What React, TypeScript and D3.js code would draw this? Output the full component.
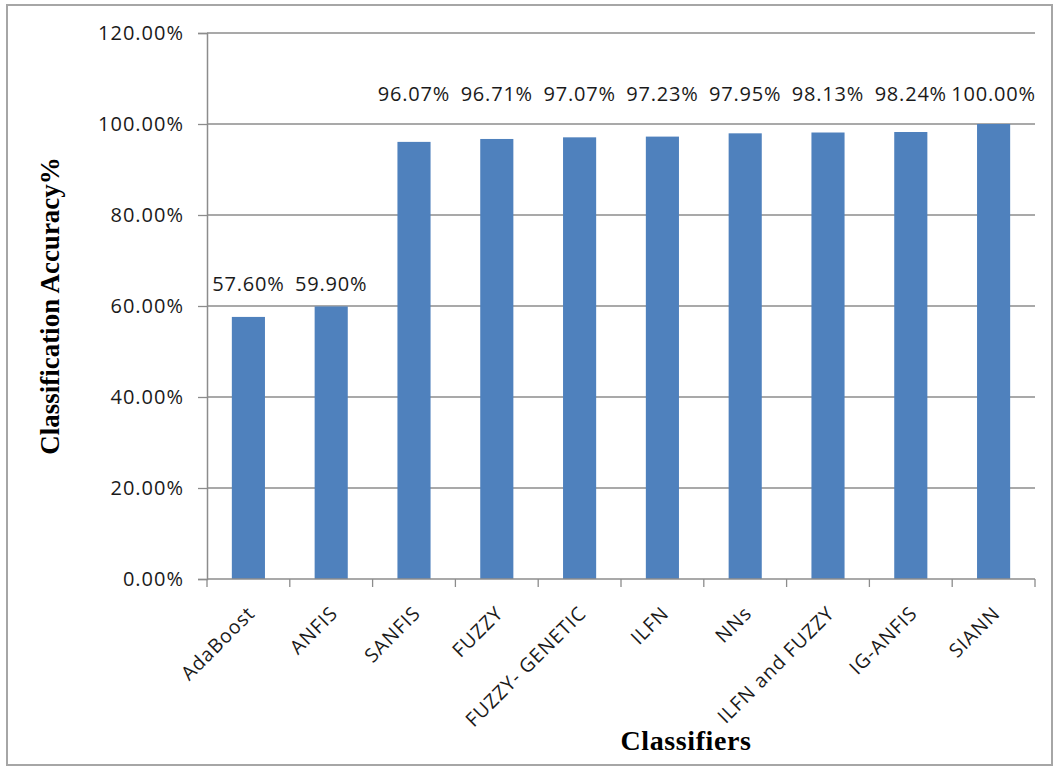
import React, { useEffect, useRef } from 'react';
import * as d3 from 'd3';

const classifiers = [
  'AdaBoost', 'ANFIS', 'SANFIS', 'FUZZY', 'FUZZY- GENETIC',
  'ILFN', 'NNs', 'ILFN and FUZZY', 'IG-ANFIS', 'SIANN',
];
const accuracy = [57.6, 59.9, 96.07, 96.71, 97.07, 97.23, 97.95, 98.13, 98.24, 100.0];
const yTicks = [0, 20, 40, 60, 80, 100, 120];

const App: React.FC = () => {
  const ref = useRef<SVGSVGElement | null>(null);

  useEffect(() => {
    if (!ref.current) return;
    const svg = d3.select(ref.current);
    svg.selectAll('*').remove();

    const width = 1054;
    const height = 766;
    const margin = { top: 33, right: 19, bottom: 187, left: 207 };
    const sans = '"Open Sans", sans-serif';
    const serif = '"Liberation Serif", "Times New Roman", serif';

    // outer frame
    svg.append('rect')
      .attr('x', 7).attr('y', 5)
      .attr('width', width - 9).attr('height', height - 6)
      .attr('fill', 'white')
      .attr('stroke', '#a6a6a6')
      .attr('stroke-width', 2);

    const x = d3.scaleBand<string>()
      .domain(classifiers)
      .range([margin.left, width - margin.right])
      .paddingInner(0.6)
      .paddingOuter(0.3);
    const step = x.step();

    const y = d3.scaleLinear()
      .domain([0, 120])
      .range([height - margin.bottom, margin.top]);

    // gridlines
    svg.append('g')
      .selectAll('line')
      .data(yTicks.filter((d) => d > 0))
      .enter()
      .append('line')
      .attr('x1', margin.left)
      .attr('x2', width - margin.right)
      .attr('y1', (d) => y(d))
      .attr('y2', (d) => y(d))
      .attr('stroke', '#8c8c8c')
      .attr('stroke-width', 1.3);

    // y axis
    const yAxis = d3.axisLeft(y)
      .tickValues(yTicks)
      .tickSize(9)
      .tickPadding(14)
      .tickFormat((d) => `${(+d).toFixed(2)}%`);
    const gy = svg.append('g')
      .attr('transform', `translate(${margin.left},0)`)
      .call(yAxis);
    gy.select('.domain').attr('stroke', '#8c8c8c').attr('stroke-width', 1.5);
    gy.selectAll('.tick line').attr('stroke', '#8c8c8c').attr('stroke-width', 1.3);
    gy.selectAll('.tick text')
      .attr('fill', '#1a1a1a')
      .style('font-family', sans)
      .style('font-size', '20px')
      .style('letter-spacing', '1px');

    // bars
    svg.append('g')
      .selectAll('rect')
      .data(accuracy)
      .enter()
      .append('rect')
      .attr('x', (_, i) => x(classifiers[i])!)
      .attr('y', (d) => y(d))
      .attr('width', x.bandwidth())
      .attr('height', (d) => y(0) - y(d))
      .attr('fill', '#4f81bd');

    // value labels: high group sits above the 100% gridline, low group on one level
    const lowTop = d3.max(accuracy.filter((d) => d < 90))!;
    svg.append('g')
      .selectAll('text')
      .data(accuracy)
      .enter()
      .append('text')
      .attr('x', (_, i) => x(classifiers[i])! + x.bandwidth() / 2)
      .attr('y', (d) => (d >= 90 ? y(105) : y(lowTop) - 15))
      .attr('text-anchor', 'middle')
      .attr('fill', '#1a1a1a')
      .style('font-family', sans)
      .style('font-size', '20px')
      .style('letter-spacing', '0.8px')
      .text((d) => `${d.toFixed(2)}%`);

    // x axis line and ticks at category boundaries
    const base = y(0);
    svg.append('line')
      .attr('x1', margin.left).attr('x2', width - margin.right)
      .attr('y1', base).attr('y2', base)
      .attr('stroke', '#8c8c8c').attr('stroke-width', 1.5);
    svg.append('g')
      .selectAll('line')
      .data(d3.range(classifiers.length + 1))
      .enter()
      .append('line')
      .attr('x1', (i) => margin.left + i * step)
      .attr('x2', (i) => margin.left + i * step)
      .attr('y1', base)
      .attr('y2', base + 8)
      .attr('stroke', '#8c8c8c')
      .attr('stroke-width', 1.3);

    // rotated category labels
    svg.append('g')
      .selectAll('text')
      .data(classifiers)
      .enter()
      .append('text')
      .attr('transform', (d) => `translate(${x(d)! + x.bandwidth() / 2 - 2},${base + 26}) rotate(-45)`)
      .attr('text-anchor', 'end')
      .attr('dy', '0.7em')
      .attr('fill', '#1a1a1a')
      .style('font-family', sans)
      .style('font-size', '19.5px')
      .style('letter-spacing', '0.9px')
      .text((d) => d);

    // axis titles
    svg.append('text')
      .attr('x', margin.left + (width - margin.right - margin.left) / 2 + 65)
      .attr('y', 750)
      .attr('text-anchor', 'middle')
      .style('font-family', serif)
      .style('font-weight', 'bold')
      .style('font-size', '28px')
      .style('letter-spacing', '0.6px')
      .text('Classifiers');

    svg.append('text')
      .attr('transform', `translate(59,${y(60)}) rotate(-90)`)
      .attr('text-anchor', 'middle')
      .style('font-family', serif)
      .style('font-weight', 'bold')
      .style('font-size', '27px')
      .text('Classification Accuracy%');
  }, []);

  return (
    <svg
      ref={ref}
      width={1054}
      height={766}
      style={{ position: 'absolute', left: 0, top: 0, background: 'white' }}
    />
  );
};

export default App;
